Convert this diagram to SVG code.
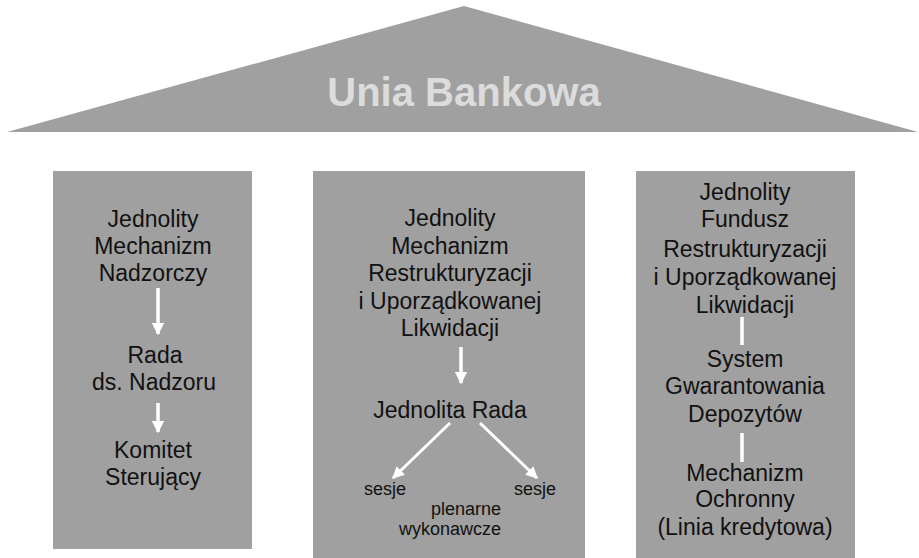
<svg xmlns="http://www.w3.org/2000/svg" width="919" height="558" viewBox="0 0 919 558">
<style>
.box{fill:#a0a0a0}
.t{font-family:"Liberation Sans",Arial,sans-serif;font-size:23px;fill:#111;text-anchor:middle}
.s{font-family:"Liberation Sans",Arial,sans-serif;font-size:18px;fill:#111;text-anchor:middle}
.title{font-family:"Liberation Sans",Arial,sans-serif;font-size:40px;font-weight:bold;fill:#dcdcdc;text-anchor:middle}
.c{stroke:#fff;stroke-width:3.5;fill:none}
.cd{stroke:#fff;stroke-width:3;fill:none}
</style>
<defs>
<marker id="ah" viewBox="0 0 10 10" refX="9" refY="5" markerWidth="3.6" markerHeight="3.6" markerUnits="strokeWidth" orient="auto">
<path d="M0,0 L10,5 L0,10 z" fill="#fff"/>
</marker>
<marker id="ahs" viewBox="0 0 10 10" refX="9" refY="5" markerWidth="4" markerHeight="4" markerUnits="strokeWidth" orient="auto">
<path d="M0,0 L10,5 L0,10 z" fill="#fff"/>
</marker>
</defs>
<g id="roof">
<polygon class="box" points="7,132 464,6 918,132"/>
<text class="title" x="464" y="106">Unia Bankowa</text>
</g>
<g id="pillar1">
<rect class="box" x="53" y="171" width="199" height="378"/>
<text class="t" x="153" y="227">Jednolity</text>
<text class="t" x="153" y="254">Mechanizm</text>
<text class="t" x="153" y="281">Nadzorczy</text>
<text class="t" x="155" y="363">Rada</text>
<text class="t" x="154" y="390">ds. Nadzoru</text>
<text class="t" x="153" y="458">Komitet</text>
<text class="t" x="153" y="485">Sterujący</text>
</g>
<g id="pillar2">
<rect class="box" x="313" y="171" width="272" height="387"/>
<text class="t" x="450" y="226">Jednolity</text>
<text class="t" x="450" y="254">Mechanizm</text>
<text class="t" x="450" y="281">Restrukturyzacji</text>
<text class="t" x="450" y="309">i Uporządkowanej</text>
<text class="t" x="450" y="336">Likwidacji</text>
<text class="t" x="450" y="418">Jednolita Rada</text>
<text class="s" x="385" y="495">sesje</text>
<text class="s" x="535" y="495">sesje</text>
<text class="s" x="466" y="515">plenarne</text>
<text class="s" x="450" y="535">wykonawcze</text>
</g>
<g id="pillar3">
<rect class="box" x="636" y="171" width="219" height="387"/>
<text class="t" x="745" y="200">Jednolity</text>
<text class="t" x="745" y="227">Fundusz</text>
<text class="t" x="745" y="257">Restrukturyzacji</text>
<text class="t" x="745" y="285">i Uporządkowanej</text>
<text class="t" x="745" y="313">Likwidacji</text>
<text class="t" x="745" y="367">System</text>
<text class="t" x="745" y="394">Gwarantowania</text>
<text class="t" x="745" y="422">Depozytów</text>
<text class="t" x="745" y="481">Mechanizm</text>
<text class="t" x="745" y="507">Ochronny</text>
<text class="t" x="745" y="535">(Linia kredytowa)</text>
</g>
<g id="connectors">
<line class="c" x1="158" y1="288" x2="158" y2="334" marker-end="url(#ah)"/>
<line class="c" x1="158" y1="403" x2="158" y2="432" marker-end="url(#ah)"/>
<line class="c" x1="461" y1="347" x2="461" y2="383" marker-end="url(#ah)"/>
<line class="cd" x1="450" y1="423" x2="393" y2="478" marker-end="url(#ahs)"/>
<line class="cd" x1="480" y1="423" x2="537" y2="478" marker-end="url(#ahs)"/>
<line class="c" x1="742" y1="317" x2="742" y2="345"/>
<line class="c" x1="742" y1="433" x2="742" y2="462"/>
</g>
</svg>
